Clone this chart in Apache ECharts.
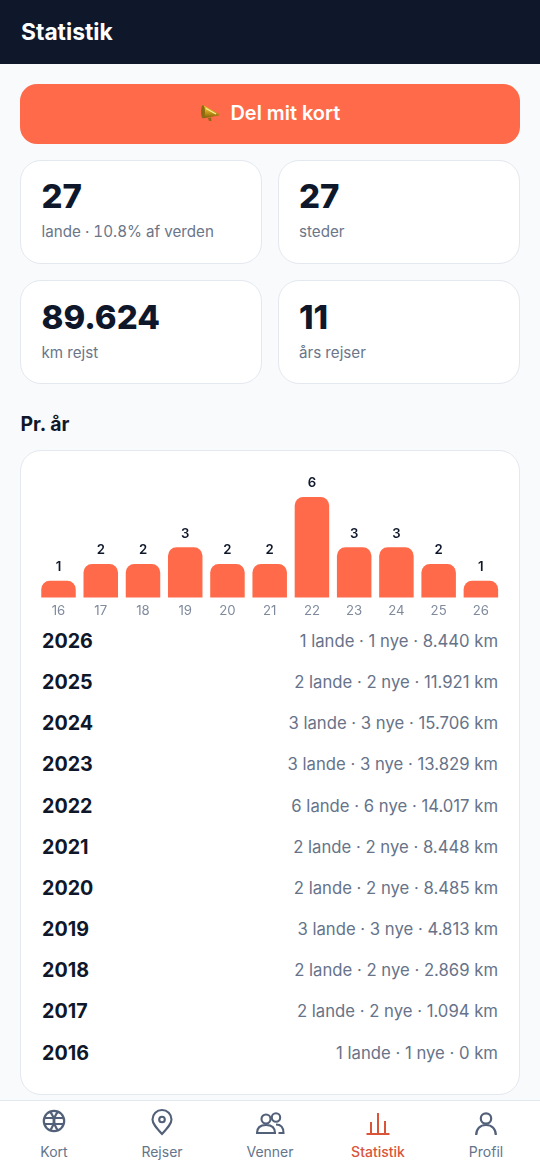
<!DOCTYPE html>
<html lang="da"><head><meta charset="utf-8"><title>Statistik</title>
<script src="https://cdn.jsdelivr.net/npm/echarts@6/dist/echarts.min.js"></script>
<style>
html,body{margin:0;padding:0;width:540px;height:1170px;overflow:hidden;background:#f8fafc;font-family:Inter,"Noto Sans",sans-serif;color:#0f172a}
.a{position:absolute;white-space:nowrap}
#head{left:0;top:0;width:540px;height:64px;background:#0f172a}
#title{left:21px;top:16.5px;font-size:22.8px;line-height:30px;font-weight:700;color:#fff}
#btn{left:20px;top:84px;width:500px;height:60px;border-radius:17px;background:#ff6b4a}
#btnt{left:230.5px;top:99px;font-size:19.9px;line-height:28px;font-weight:600;color:#fff}
#mega{left:199px;top:103px}
.card{box-sizing:border-box;background:#fff;border:1.3px solid #e4e8ef;border-radius:21px}
.num{font-size:33px;line-height:40px;font-weight:800;color:#0f172a}
.lab{font-size:15.2px;line-height:20px;color:#6b7689;font-variant-numeric:tabular-nums}
#sec{left:20.5px;top:411px;font-size:19.4px;line-height:26px;font-weight:700}
#chart{left:21px;top:451px;width:498px;height:175px}
.yr{left:42px;font-size:19.7px;line-height:26px;font-weight:700;color:#0f172a}
.det{right:42px;font-size:16.7px;line-height:22px;color:#667389}
#tab{left:0;top:1100px;width:540px;height:70px;background:#fff;border-top:1.3px solid #e2e8f0;box-sizing:border-box}
.tl{top:1143px;width:108px;text-align:center;font-size:14px;line-height:18px;font-weight:400;color:#64748b}
svg{position:absolute;overflow:visible}
</style></head><body>
<div class="a" id="head"></div><div class="a" id="title">Statistik</div>
<div class="a" id="btn"></div>
<svg id="mega" width="22" height="20" viewBox="0 0 22 20">
<defs><linearGradient id="g" x1="0" y1="0" x2="0" y2="1"><stop offset="0" stop-color="#f6d83e"/><stop offset=".55" stop-color="#c79a18"/><stop offset="1" stop-color="#7d5c0c"/></linearGradient></defs>
<path d="M9 15 l1 3 h2.500 l-.5-3.500z" fill="#8f6a10"/>
<path d="M3.700 2 L20.300 11 L19.800 12.500 L4.300 15.300 Z" fill="url(#g)"/><ellipse cx="4" cy="8.700" rx="2" ry="6.800" fill="#8c6a10"/><path d="M7 5.500 L17 11" stroke="#fff2a0" stroke-width="1.100" fill="none"/></svg>
<div class="a" id="btnt">Del mit kort</div>

<div class="a card" style="left:20px;top:160px;width:242px;height:104px"></div>
<div class="a card" style="left:278px;top:160px;width:242px;height:104px"></div>
<div class="a card" style="left:20px;top:280px;width:242px;height:104px"></div>
<div class="a card" style="left:278px;top:280px;width:242px;height:104px"></div>
<div id="stats"></div>

<div class="a" id="sec">Pr. år</div>
<div class="a card" style="left:20px;top:450px;width:500px;height:645px"></div>
<div class="a" id="chart"></div>
<div id="rows"></div>

<div class="a" id="tab"></div>
<svg style="left:41px;top:1109px" width="26" height="26" viewBox="0 0 26 26" fill="none" stroke="#526079" stroke-width="2.200"><circle cx="13" cy="12" r="10.200"/><path d="M3 9h20M3 15h20M9 2.800c5 5.500 5 12.900 0 18.400M17 2.800c-5 5.500-5 12.900 0 18.400"/></svg>
<svg style="left:150px;top:1109px" width="24" height="28" viewBox="0 0 24 28" fill="none" stroke="#526079" stroke-width="2.100"><path d="M12 25C6 18.500 2.500 14.500 2.500 10.500a9.500 9.500 0 0 1 19 0C21.500 14.500 18 18.500 12 25Z"/><circle cx="12" cy="10.500" r="2.800"/></svg>
<svg style="left:255px;top:1112px" width="30" height="24" viewBox="0 0 30 24" fill="none" stroke="#526079" stroke-width="2.100"><circle cx="11" cy="7" r="4.500"/><path d="M2 21c0-5 3-8 9-8s9 3 9 8z"/><circle cx="21" cy="5.500" r="4.200"/><path d="M21 12.500c4.500 0 7.500 2.500 7.500 8.500h-5"/></svg>
<svg style="left:364px;top:1112px" width="28" height="24" viewBox="0 0 28 24" fill="none" stroke="#d9553a" stroke-width="2"><path d="M2.500 22h23M7 22V10M14 22V1M21 22V9"/></svg>
<svg style="left:475px;top:1112px" width="22" height="24" viewBox="0 0 22 24" fill="none" stroke="#526079" stroke-width="2.200"><circle cx="11" cy="6.500" r="5.200"/><path d="M1.200 23c0-6 3.800-10 9.800-10s9.800 4 9.800 10"/></svg>
<div id="tabs"></div>

<script>
const yearLabels = ['16','17','18','19','20','21','22','23','24','25','26'];
const countryCounts = [1,2,2,3,2,2,6,3,3,2,1];
const rowYears = ['2026','2025','2024','2023','2022','2021','2020','2019','2018','2017','2016'];
const rowLande = [1,2,3,3,6,2,2,3,2,2,1];
const rowNye = [1,2,3,3,6,2,2,3,2,2,1];
const rowKm = ['8.440','11.921','15.706','13.829','14.017','8.448','8.485','4.813','2.869','1.094','0'];
const statValues = ['27','27','89.624','11'];
const statLabels = ['lande · 10.8% af verden','steder','km rejst','års rejser'];
const tabLabels = ['Kort','Rejser','Venner','Statistik','Profil'];

const statEl = document.getElementById('stats');
statValues.forEach((v,i)=>{
  const x = i%2 ? 299 : 41.5, y = i<2 ? 176 : 297;
  statEl.insertAdjacentHTML('beforeend',
   `<div class="a num" style="left:${x}px;top:${y}px">${v}</div><div class="a lab" style="left:${x}px;top:${y+46}px">${statLabels[i]}</div>`);
});
const rowEl = document.getElementById('rows');
rowYears.forEach((y,i)=>{
  const c = 641 + i*41.15;
  rowEl.insertAdjacentHTML('beforeend',
   `<div class="a yr" style="top:${c-13}px">${y}</div><div class="a det" style="top:${c-11}px">${rowLande[i]} lande · ${rowNye[i]} nye · ${rowKm[i]} km</div>`);
});
const tabEl = document.getElementById('tabs');
tabLabels.forEach((t,i)=>{
  tabEl.insertAdjacentHTML('beforeend',
   `<div class="a tl" style="left:${i*108}px;${i===3?'color:#d9553a;font-weight:500':''}">${t}</div>`);
});

const chart = echarts.init(document.getElementById('chart'));
chart.setOption({
  animation:false,
  grid:{left:16.4,right:17,top:46,height:100.5},
  xAxis:{type:'category',data:yearLabels,axisLine:{show:false},axisTick:{show:false},
    axisLabel:{color:'#7f8a9c',fontSize:13.2,fontFamily:'Inter',margin:7}},
  yAxis:{type:'value',min:0,max:6,show:false,splitLine:{show:false}},
  series:[{type:'bar',data:countryCounts,barWidth:34.5,
    itemStyle:{color:'#ff6b4a',borderRadius:[8.5,8.5,0,0]},
    label:{show:true,position:'top',distance:7,color:'#0f172a',fontSize:13.2,fontWeight:600,fontFamily:'Inter'}}]
});
</script></body></html>
